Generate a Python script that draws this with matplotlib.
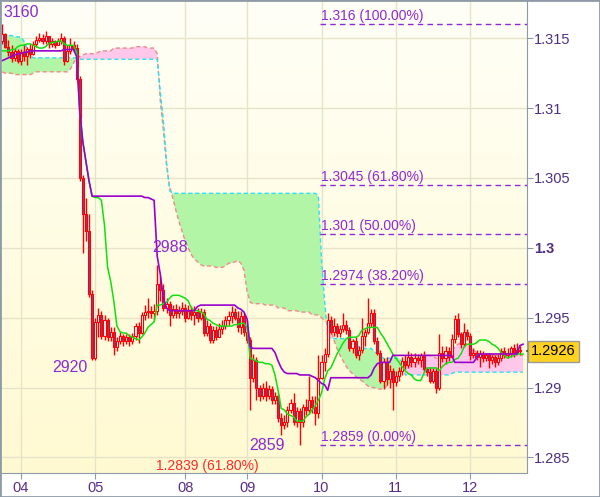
import numpy as np
import matplotlib
matplotlib.use("Agg")
import matplotlib.pyplot as plt
from matplotlib.patches import Rectangle
from matplotlib.transforms import blended_transform_factory

plt.rcParams['font.family'] = ['Liberation Sans', 'DejaVu Sans']

# all prices below are pips (0.0001) relative to 1.3000
BASE = 1.3

opens = [148, 153, 144, 140, 136, 141, 134, 140, 137, 142,
         139, 146, 149, 150, 148, 152, 146, 148, 145, 148,
         150, 134, 141, 145, 143, 121, 50, 24, 12, -33,
         -79, -53, -48, -63, -52, -64, -60, -71, -67, -63,
         -67, -64, -67, -63, -56, -61, -48, -46, -45, -47,
         -45, -26, -30, -43, -40, -48, -44, -47, -45, -43,
         -50, -45, -48, -46, -50, -46, -61, -56, -66, -59,
         -64, -58, -56, -52, -49, -46, -50, -57, -49, -60,
         -66, -93, -80, -100, -106, -100, -106, -101, -109, -106,
         -122, -127, -125, -116, -111, -125, -117, -125, -114, -116,
         -109, -114, -118, -93, -82, -76, -52, -60, -56, -61,
         -58, -55, -59, -72, -67, -77, -73, -63, -60, -54,
         -47, -67, -75, -95, -82, -94, -88, -96, -92, -88,
         -81, -84, -78, -82, -79, -80, -77, -87, -89, -95,
         -88, -100, -75, -79, -74, -78, -65, -51, -62, -69,
         -60, -63, -77, -75, -78, -76, -79, -77, -80, -78,
         -82, -79, -74, -77, -75, -72, -75, -73]
highs = [160, 154, 149, 145, 143, 142, 142, 146, 144, 146,
         148, 152, 154, 153, 155, 152, 150, 149, 150, 154,
         152, 145, 150, 148, 146, 123, 52, 36, 24, -30,
         -50, -43, -45, -48, -50, -57, -57, -64, -60, -62,
         -62, -62, -61, -54, -53, -46, -41, -36, -42, -40,
         -12, -20, -26, -36, -38, -41, -40, -42, -39, -40,
         -41, -42, -42, -43, -43, -44, -52, -54, -56, -56,
         -54, -52, -49, -45, -42, -43, -45, -45, -47, -52,
         -64, -76, -78, -98, -97, -95, -98, -99, -103, -104,
         -118, -120, -113, -108, -104, -114, -115, -112, -108, -92,
         -106, -106, -77, -77, -72, -47, -49, -50, -54, -55,
         -47, -52, -57, -65, -64, -70, -50, -58, -36, -44,
         -44, -64, -73, -79, -78, -84, -86, -88, -85, -78,
         -77, -74, -75, -75, -76, -75, -74, -85, -85, -86,
         -85, -62, -70, -70, -71, -62, -48, -47, -60, -54,
         -58, -61, -72, -73, -73, -74, -75, -75, -76, -77,
         -76, -72, -71, -72, -70, -69, -68, -70]
lows = [146, 143, 137, 133, 134, 132, 131, 134, 131, 136,
        138, 144, 147, 146, 146, 143, 144, 143, 145, 146,
        131, 133, 139, 140, 119, 48, -4, 5, -35, -80,
        -80, -64, -65, -66, -67, -67, -77, -74, -69, -70,
        -69, -70, -69, -66, -68, -62, -52, -50, -50, -52,
        -48, -38, -45, -47, -56, -50, -50, -50, -48, -53,
        -51, -52, -55, -53, -52, -63, -63, -68, -68, -66,
        -64, -62, -58, -55, -54, -52, -60, -62, -63, -68,
        -116, -96, -109, -110, -108, -110, -108, -112, -112, -125,
        -134, -130, -128, -118, -127, -128, -141, -128, -120, -119,
        -118, -127, -122, -94, -88, -78, -62, -63, -64, -64,
        -60, -62, -74, -75, -79, -80, -75, -70, -62, -57,
        -69, -77, -97, -101, -98, -100, -116, -99, -95, -91,
        -87, -86, -85, -85, -83, -85, -89, -92, -97, -97,
        -104, -102, -82, -83, -81, -78, -68, -64, -72, -71,
        -66, -80, -79, -80, -85, -82, -81, -86, -83, -85,
        -84, -81, -79, -79, -78, -78, -76, -77]
closes = [153, 144, 140, 136, 141, 134, 140, 137, 142, 139,
          146, 149, 150, 148, 152, 146, 148, 145, 148, 150,
          134, 141, 145, 143, 121, 50, 24, 12, -33, -79,
          -53, -48, -63, -52, -64, -60, -71, -67, -63, -67,
          -64, -67, -63, -56, -61, -48, -46, -45, -47, -45,
          -26, -30, -43, -40, -48, -44, -47, -45, -43, -50,
          -45, -48, -46, -50, -46, -61, -56, -66, -59, -64,
          -58, -56, -52, -49, -46, -50, -57, -49, -60, -66,
          -93, -80, -100, -106, -100, -106, -101, -109, -106, -122,
          -127, -125, -116, -111, -125, -117, -125, -114, -116, -109,
          -114, -118, -93, -82, -76, -52, -60, -56, -61, -58,
          -55, -59, -72, -67, -77, -73, -63, -60, -54, -47,
          -67, -75, -95, -82, -94, -88, -96, -92, -88, -81,
          -84, -78, -82, -79, -80, -77, -87, -89, -95, -88,
          -100, -75, -79, -74, -78, -65, -51, -62, -69, -60,
          -63, -77, -75, -78, -76, -79, -77, -80, -78, -82,
          -79, -74, -77, -75, -72, -75, -73, -74]

tenkan = [141, 141, 141, 142, 142, 144, 145, 145, 146, 146,
          145, 144, 143, 143, 144, 146, 147, 147, 148, 148,
          146, 145, 145, 145, 140, 98, 76, 62, 48, 37,
          36, 36, 34, 16, -14, -24, -38, -56, -60, -61,
          -61, -63, -64, -65, -66, -64, -61, -57, -55, -53,
          -41, -41, -40, -39, -36, -34, -34, -34, -35, -36,
          -38, -43, -45, -45, -46, -47, -51, -52, -54, -55,
          -56, -56, -56, -56, -56, -55, -55, -54, -54, -57,
          -79, -80, -81, -82, -82, -83, -83, -84, -91, -102,
          -115, -116, -119, -120, -121, -124, -124, -124, -121, -119,
          -116, -113, -109, -104, -94, -88, -86, -81, -76, -72,
          -68, -65, -64, -64, -64, -63, -59, -58, -57, -57,
          -57, -57, -61, -64, -68, -72, -76, -79, -82, -85,
          -88, -90, -91, -94, -95, -95, -90, -86, -86, -86,
          -86, -88, -85, -83, -82, -82, -80, -79, -76, -71,
          -69, -69, -69, -68, -66, -66, -66, -67, -69, -70,
          -72, -75, -77, -79, -78, -77, -76, -76, -76]
kijun = [134, 135, 136, 137, 138, 139, 139, 140, 140, 141,
         141, 141, 141, 141, 141, 141, 141, 141, 141, 141,
         142, 142, 142, 142, 137, 98, 76, 62, 48, 37,
         37, 37, 37, 37, 37, 37, 37, 37, 37, 37,
         37, 37, 37, 37, 37, 37, 36, 36, 35, 34,
         -6, -19, -36, -43, -45, -45, -45, -45, -45, -45,
         -45, -45, -45, -42, -41, -41, -41, -41, -41, -41,
         -41, -41, -41, -41, -41, -41, -43, -44, -46, -51,
         -71, -72, -72, -72, -72, -72, -72, -72, -75, -81,
         -86, -89, -90, -90, -90, -90, -91, -91, -91, -91,
         -92, -93, -95, -97, -98, -102, -93, -93, -93, -93,
         -93, -93, -93, -93, -93, -93, -93, -93, -93, -91,
         -86, -83, -82, -82, -82, -82, -77, -77, -77, -77,
         -77, -77, -77, -77, -77, -77, -77, -77, -77, -77,
         -77, -77, -77, -77, -77, -77, -82, -82, -82, -82,
         -82, -82, -82, -79, -76, -76, -76, -76, -76, -76,
         -76, -76, -76, -76, -76, -76, -76, -70, -69]
span_a = [152, 152, 152, 152, 151, 151, 151, 148, 143, 138,
          136, 136, 136, 136, 136, 136, 136, 136, 136, 136,
          136, 136, 136, 136, 136, 135, 135, 135, 135, 135,
          135, 135, 135, 135, 135, 135, 135, 135, 135, 135,
          135, 135, 135, 135, 135, 135, 135, 135, 135, 135,
          135, 112, 91, 62, 41, 39, 39, 39, 39, 39,
          39, 39, 39, 39, 39, 39, 39, 39, 39, 39,
          39, 39, 39, 39, 39, 39, 39, 39, 39, 39,
          39, 39, 39, 39, 39, 39, 39, 39, 39, 39,
          39, 39, 39, 39, 39, 39, 39, 39, 39, 39,
          39, 39, 37, -9, -38, -63, -65, -65, -65, -65,
          -65, -65, -64, -65, -68, -71, -72, -72, -72, -72,
          -74, -76, -78, -79, -79, -79, -79, -79, -79, -82,
          -91, -91, -91, -91, -91, -91, -91, -91, -91, -91,
          -91, -91, -91, -91, -91, -90, -89, -89, -89, -89,
          -89, -89, -89, -89, -89, -89, -89, -89, -89, -89,
          -89, -89, -89, -89, -89, -89, -89, -89, -89]
span_b = [126, 125, 125, 125, 124, 124, 124, 124, 124, 124,
          125, 126, 126, 126, 126, 126, 126, 126, 126, 126,
          126, 126, 128, 132, 136, 137, 138, 139, 139, 139,
          139, 140, 141, 141, 141, 141, 143, 143, 143, 143,
          143, 143, 143, 144, 144, 144, 144, 143, 143, 143,
          139, 105, 84, 59, 44, 36, 27, 19, 12, 5,
          0, -5, -8, -10, -12, -13, -13, -13, -13, -14,
          -14, -14, -13, -11, -11, -10, -9, -11, -16, -31,
          -39, -40, -40, -40, -40, -41, -41, -41, -41, -43,
          -43, -43, -45, -45, -45, -45, -46, -46, -46, -46,
          -48, -48, -48, -50, -52, -54, -59, -66, -72, -77,
          -81, -85, -88, -90, -92, -94, -95, -97, -99, -100,
          -100, -101, -101, -101, -99, -97, -95, -92, -89, -87,
          -85, -83, -81, -81, -79, -79, -78, -77, -77, -78,
          -79, -79, -78, -77, -76, -74, -71, -69, -68, -68,
          -69, -71, -73, -75, -76, -76, -76, -76, -76, -77,
          -77, -77, -77, -76, -76, -76, -77, -77, -77]

day_labels = ['04', '05', '08', '09', '10', '11', '12']
day_start = [6, 30, 59, 79, 103, 127, 151]

fib_levels = [1.316, 1.3045, 1.301, 1.2974, 1.2859]
fib_texts = ['1.316 (100.00%)', '1.3045 (61.80%)', '1.301 (50.00%)',
             '1.2974 (38.20%)', '1.2859 (0.00%)']
ext_text = '1.2839 (61.80%)'

y_ticks = [1.285, 1.29, 1.295, 1.3, 1.305, 1.31, 1.315]


def to_price(vals):
    return BASE + np.asarray(vals, dtype=float) / 1e4


o, h, l, c = (to_price(v) for v in (opens, highs, lows, closes))
tk, kj, sa, sb = (to_price(v) for v in (tenkan, kijun, span_a, span_b))
xb = np.arange(len(c))
xl = np.arange(len(tk))

X0, X1 = -0.39, 169.29
Y0, Y1 = 1.28388, 1.31767

fig = plt.figure(figsize=(6.0, 4.97), dpi=100)
fig.patch.set_facecolor('white')
ax = fig.add_axes([1 / 600, 24 / 497, 526 / 600, 472 / 497])

# yellowish vertical gradient
top = np.array([1.0, 1.0, 0.97])
bot = np.array([1.0, 0.98, 0.82])
t = np.linspace(0, 1, 256)[:, None]
grad = (top * (1 - t) + bot * t)[:, None, :]
ax.imshow(grad, extent=[X0, X1, Y0, Y1], aspect='auto', origin='upper', zorder=0)

ax.set_xlim(X0, X1)
ax.set_ylim(Y0, Y1)

# cloud
ax.fill_between(xl, sa, sb, where=sa >= sb, interpolate=True,
                color='#b3f5a6', lw=0, zorder=1)
ax.fill_between(xl, sa, sb, where=sa < sb, interpolate=True,
                color='#ffc8ea', lw=0, zorder=1)
ax.plot(xl, sb, color='#f08a8a', lw=1, ls=(0, (3, 2)), zorder=2)
ax.plot(xl, sa, color='#2fe0f0', lw=1, ls=(0, (3, 2)), zorder=2)

# candles
ax.vlines(xb, l, h, color='#ff0000', lw=1, zorder=4)
up = c >= o
body = np.maximum(np.abs(c - o), 0.00003)
ax.bar(xb[up], body[up], bottom=np.minimum(o, c)[up], width=0.68,
       color='white', edgecolor='#ff0000', linewidth=0.8, zorder=5)
ax.bar(xb[~up], body[~up], bottom=np.minimum(o, c)[~up], width=0.68,
       color='#7f3f98', edgecolor='#ff0000', linewidth=0.8, zorder=5)

# tenkan / kijun
ax.plot(xl, tk, color='#10e010', lw=1.1, zorder=6)
ax.plot(xl, kj, color='#9a00cc', lw=1.2, zorder=6)

# fibonacci
fib_col = '#9128d6'
for lev, txt in zip(fib_levels, fib_texts):
    ax.hlines(lev, day_start[4] - 0.5, X1, colors=fib_col, lw=1,
              linestyles=(0, (4, 3)), zorder=7)
    ax.annotate(txt, (day_start[4] - 0.3, lev), xytext=(0, 1),
                textcoords='offset pixels', fontsize=10, color=fib_col,
                va='bottom', ha='left', zorder=8)
ax.text(49.6, Y0, ext_text, fontsize=10, color='#ff2a2a', va='bottom',
        ha='left', zorder=8)

# swing labels
lab_col = '#8a2bd0'
i_hi0 = int(np.argmax(h[:30]))
i_hi1 = 30 + int(np.argmax(h[30:80]))
i_lo0 = int(np.argmin(l[:60]))
i_lo1 = int(np.argmin(l))
for idx, val, dx, dy, ha, va in [
        (i_hi0, h[i_hi0], 1, 4, 'left', 'bottom'),
        (i_hi1, h[i_hi1], -5, 10, 'left', 'bottom'),
        (i_lo0, l[i_lo0], -5, 0, 'right', 'top'),
        (i_lo1, l[i_lo1], -15, 7, 'right', 'top')]:
    ax.annotate(f"{val:.4f}"[-4:], (idx, val), xytext=(dx, dy),
                textcoords='offset pixels', fontsize=11.5, color=lab_col,
                ha=ha, va=va, zorder=8)

# axes styling
spine_col = '#8e9ba6'
for s in ('top', 'left'):
    ax.spines[s].set_visible(False)
for s in ('right', 'bottom'):
    ax.spines[s].set_color(spine_col)

ax.yaxis.tick_right()
ax.set_yticks(y_ticks, [f"{v:g}" for v in y_ticks])
for lab in ax.get_yticklabels():
    if lab.get_text() == '1.3':
        lab.set_fontweight('bold')
ax.set_xticks(day_start, day_labels)
ax.tick_params(axis='y', length=4, color=spine_col, labelcolor='#4e2f86',
               labelsize=10.5, pad=1)
ax.tick_params(axis='x', length=4, color=spine_col, labelcolor='#5a2d8a',
               labelsize=10.5, pad=2)
ax.grid(True, color='#e6e4c8', lw=1, zorder=0.5)
ax.set_axisbelow(True)

# last price tag
last = c[-1]
tr = blended_transform_factory(ax.transAxes, ax.transData)
ax.plot([1.0, 1.008], [last, last], transform=tr, color='#333333', lw=1.2,
        clip_on=False, zorder=9)
ax.text(1.008, last, f"{last:.4f}", transform=tr, fontsize=10.5,
        color='black', va='center', ha='left', zorder=9,
        bbox=dict(boxstyle='square,pad=0.25', fc='#ffd21f', ec='#9a9a9a',
                  lw=1))

fig.patches.append(Rectangle((0, 0), 1, 1, transform=fig.transFigure,
                             fill=False, ec=spine_col, lw=2))

fig.savefig('out.png', dpi=100)
